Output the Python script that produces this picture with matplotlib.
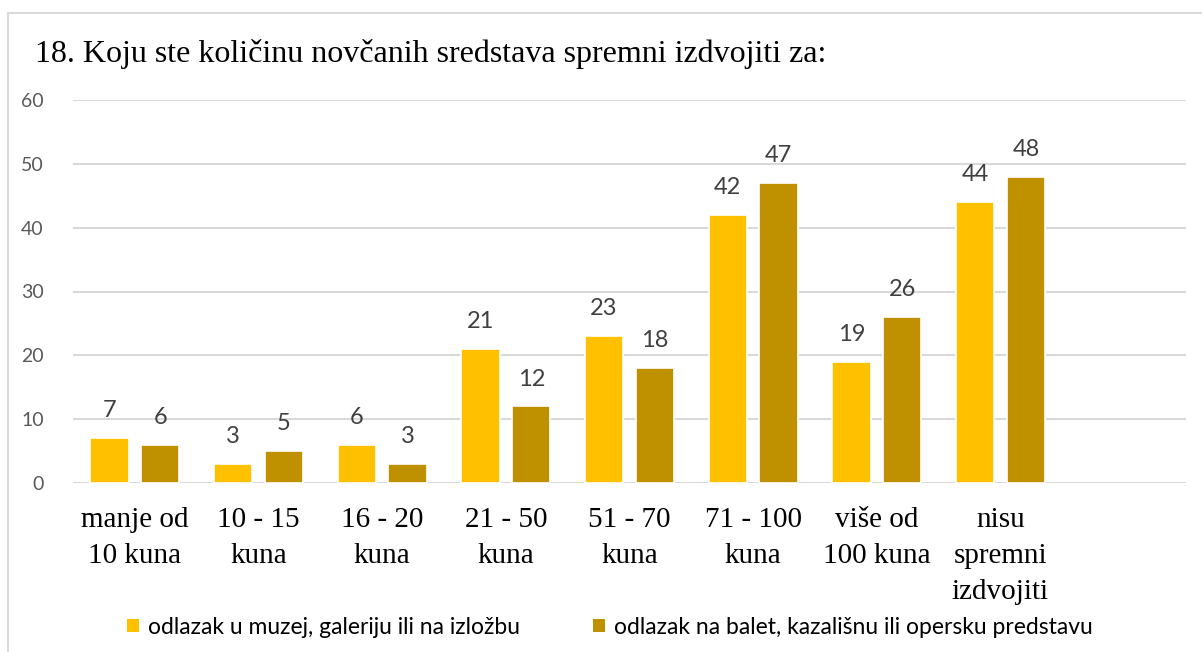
import matplotlib
matplotlib.use("Agg")
import matplotlib.pyplot as plt
from matplotlib.patches import Patch, Rectangle
import numpy as np

title = "18. Koju ste količinu novčanih sredstava spremni izdvojiti za:"
categories = ["manje od\n10 kuna", "10 - 15\nkuna", "16 - 20\nkuna", "21 - 50\nkuna",
              "51 - 70\nkuna", "71 - 100\nkuna", "više od\n100 kuna",
              "nisu\nspremni\nizdvojiti", ""]
series_names = ["odlazak u muzej, galeriju ili na izložbu",
                "odlazak na balet, kazališnu ili opersku predstavu"]
muzej = [7, 3, 6, 21, 23, 42, 19, 44]
balet = [6, 5, 3, 12, 18, 47, 26, 48]
colors = ["#FFC000", "#BF9000"]
yticks = [0, 10, 20, 30, 40, 50, 60]

fig = plt.figure(figsize=(12.02, 6.52), dpi=100)
ax = fig.add_axes([73/1202, 1 - 483/652, (1186 - 73)/1202, (483 - 100)/652])

# outer frame of the chart area
fig.patches.append(Rectangle((8/1202, -0.05), 1.2, 1 - 13/652 + 0.05,
                             transform=fig.transFigure, fill=False,
                             edgecolor="#D9D9D9", linewidth=1.5, zorder=0))

x = np.arange(len(categories))
w = 0.31
off = 0.206
for vals, c, sgn in [(muzej, colors[0], -1), (balet, colors[1], 1)]:
    xs = x[:len(vals)] + sgn * off
    bars = ax.bar(xs, vals, width=w, color=c, edgecolor="white", linewidth=1.2, zorder=3)
    for b, v in zip(bars, vals):
        ax.annotate(str(v), (b.get_x() + b.get_width()/2, v), xytext=(0, 15),
                    textcoords="offset points", ha="center", va="baseline",
                    fontsize=17, color="#404040", family="Lato")

ax.set_xlim(-0.5, len(categories) - 0.5)
ax.set_ylim(0, 60)
ax.set_yticks(yticks)
ax.set_yticklabels([str(t) for t in yticks], fontsize=14, color="#595959", family="Lato")
ax.set_xticks(x)
ax.set_xticklabels(categories, fontsize=21, family="Liberation Serif",
                   linespacing=1.5, va="top")
ax.tick_params(axis="x", length=0, pad=17)
ax.tick_params(axis="y", length=0, pad=21)
ax.grid(axis="y", color="#D9D9D9", linewidth=1.5, zorder=0)
for s in ax.spines.values():
    s.set_visible(False)

fig.text(35/1202, 1 - 62/652, title, fontsize=23, family="Liberation Serif",
         ha="left", va="baseline", color="black")

handles = [Patch(facecolor=c, edgecolor="none") for c in colors]
fig.legend(handles, series_names, loc="center", bbox_to_anchor=(610/1202, 1 - 627/652),
           ncol=2, frameon=False, prop={"family": "Lato", "size": 16.5},
           handlelength=0.5, handleheight=0.5, handletextpad=0.4, columnspacing=3.2)

fig.savefig("out.png", dpi=100, facecolor="white")
